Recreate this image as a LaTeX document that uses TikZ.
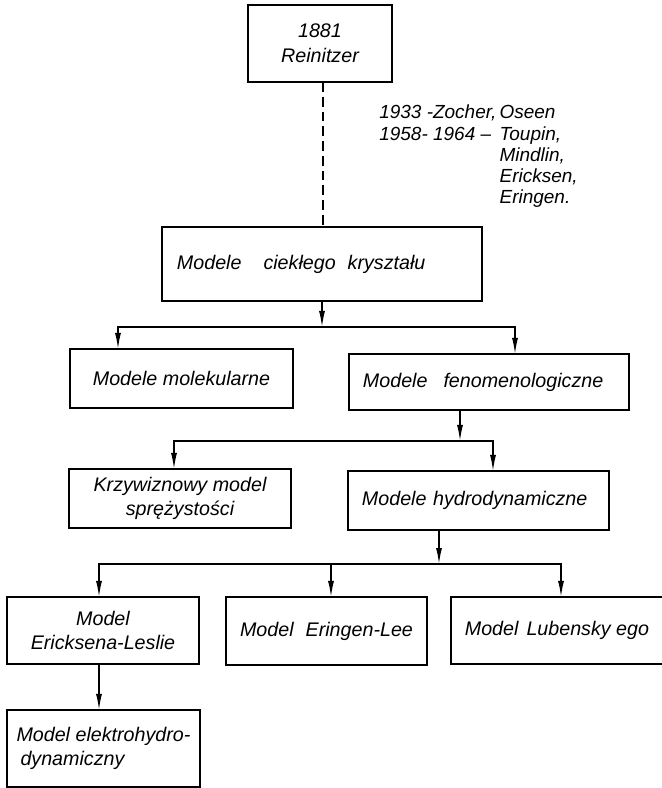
\documentclass[tikz,border=0pt]{standalone}
\usepackage{fontspec}
\setmainfont{Liberation Sans}
\usetikzlibrary{arrows.meta}

\begin{document}
\begin{tikzpicture}[
		x=0.025cm, y=-0.025cm,
		box/.style={
			draw, line width=1.2pt, rectangle,
			inner xsep=0.35cm, inner ysep=0pt, outer sep=0pt,
			align=center,
			font=\itshape\fontsize{14}{17.5}\selectfont
		},
		leftbox/.style={box, align=left},
		link/.style={line width=1pt, -{Latex[length=4mm,width=1.5mm]}},
		dashline/.style={line width=1pt, dash pattern=on 7pt off 3.5pt}
		]
		
		\useasboundingbox (0,0) rectangle (662,788);
		
		\node[box, minimum width=3.6cm, minimum height=1.925cm] (reinitzer) at (320,43.5) {1881\\Reinitzer};
		\node[anchor=base west, inner sep=0pt, font=\itshape\fontsize{13.5}{15}\selectfont] (history) at (379,119) {\begin{tabular}[t]{@{}l@{\,}l@{}}
				1933 -Zocher, & Oseen\\
				1958- 1964 -- & Toupin,\\
				& Mindlin,\\
				& Ericksen,\\
				& Eringen.
			\end{tabular}};
		\node[leftbox, text width=7.25cm, inner xsep=0.375cm, minimum height=1.85cm] (ciekly) at (322,264) {Modele\hspace{0.55cm}ciekłego\hspace{0.3cm}kryształu};
		\node[box, minimum width=5.575cm, minimum height=1.475cm] (molek) at (181.5,378.5) {Modele molekularne};
		\node[leftbox, text width=6.3cm, minimum height=1.4cm] (fenom) at (489,382) {Modele\hspace{0.4cm}fenomenologiczne};
		\node[box, minimum width=5.55cm, minimum height=1.475cm] (krzyw) at (180,498.5) {Krzywiznowy model\\sprężystości};
		\node[leftbox, text width=5.825cm, minimum height=1.475cm] (hydro) at (478.5,500.5) {Modele hydrodynamiczne};
		\node[box, minimum width=4.8cm, minimum height=1.675cm] (leslie) at (103,630.5) {Model\\Ericksena-Leslie};
		\node[box, minimum width=4.925cm, minimum height=1.7cm] (eringen) at (326.5,631) {Model\hspace{0.3cm}Eringen-Lee};
		\node[box, minimum width=5.2cm, minimum height=1.675cm] (lubensky) at (557,630.5) {Model\hspace{0.2cm}Lubensky ego};
		\node[leftbox, minimum width=4.825cm, minimum height=1.925cm, inner xsep=0.2cm] (elektro) at (103.5,748.5) {Model elektrohydro-\\\hspace{0.1cm}dynamiczny};
		
		\coordinate (spine) at (323,150);
		\coordinate (j1) at (322,327);
		\coordinate (j2) at (460,441);
		\coordinate (j3) at (439,564);
		\coordinate (j4) at (99,690);
		
		\draw[dashline] (reinitzer.south -| spine) -- (ciekly.north -| spine);
		\draw[link] (ciekly.south -| j1) -- (j1);
		\draw[link] (j1) -| ([xshift=-1.5875cm]molek.north);
		\draw[link] (j1) -| ([xshift=0.65cm]fenom.north);
		\draw[link] (fenom.south -| j2) -- (j2);
		\draw[link] (j2) -| ([xshift=-0.15cm]krzyw.north);
		\draw[link] (j2) -| ([xshift=0.3625cm]hydro.north);
		\draw[link] (hydro.south -| j3) -- (j3);
		\draw[link] (j3) -| ([xshift=-0.1cm]leslie.north);
		\draw[link] (j3) -| ([xshift=0.1125cm]eringen.north);
		\draw[link] (j3) -| ([xshift=0.1cm]lubensky.north);
		\draw[link] (leslie.south -| j4) -- (elektro.north -| j4);
	\end{tikzpicture}
\end{document}
